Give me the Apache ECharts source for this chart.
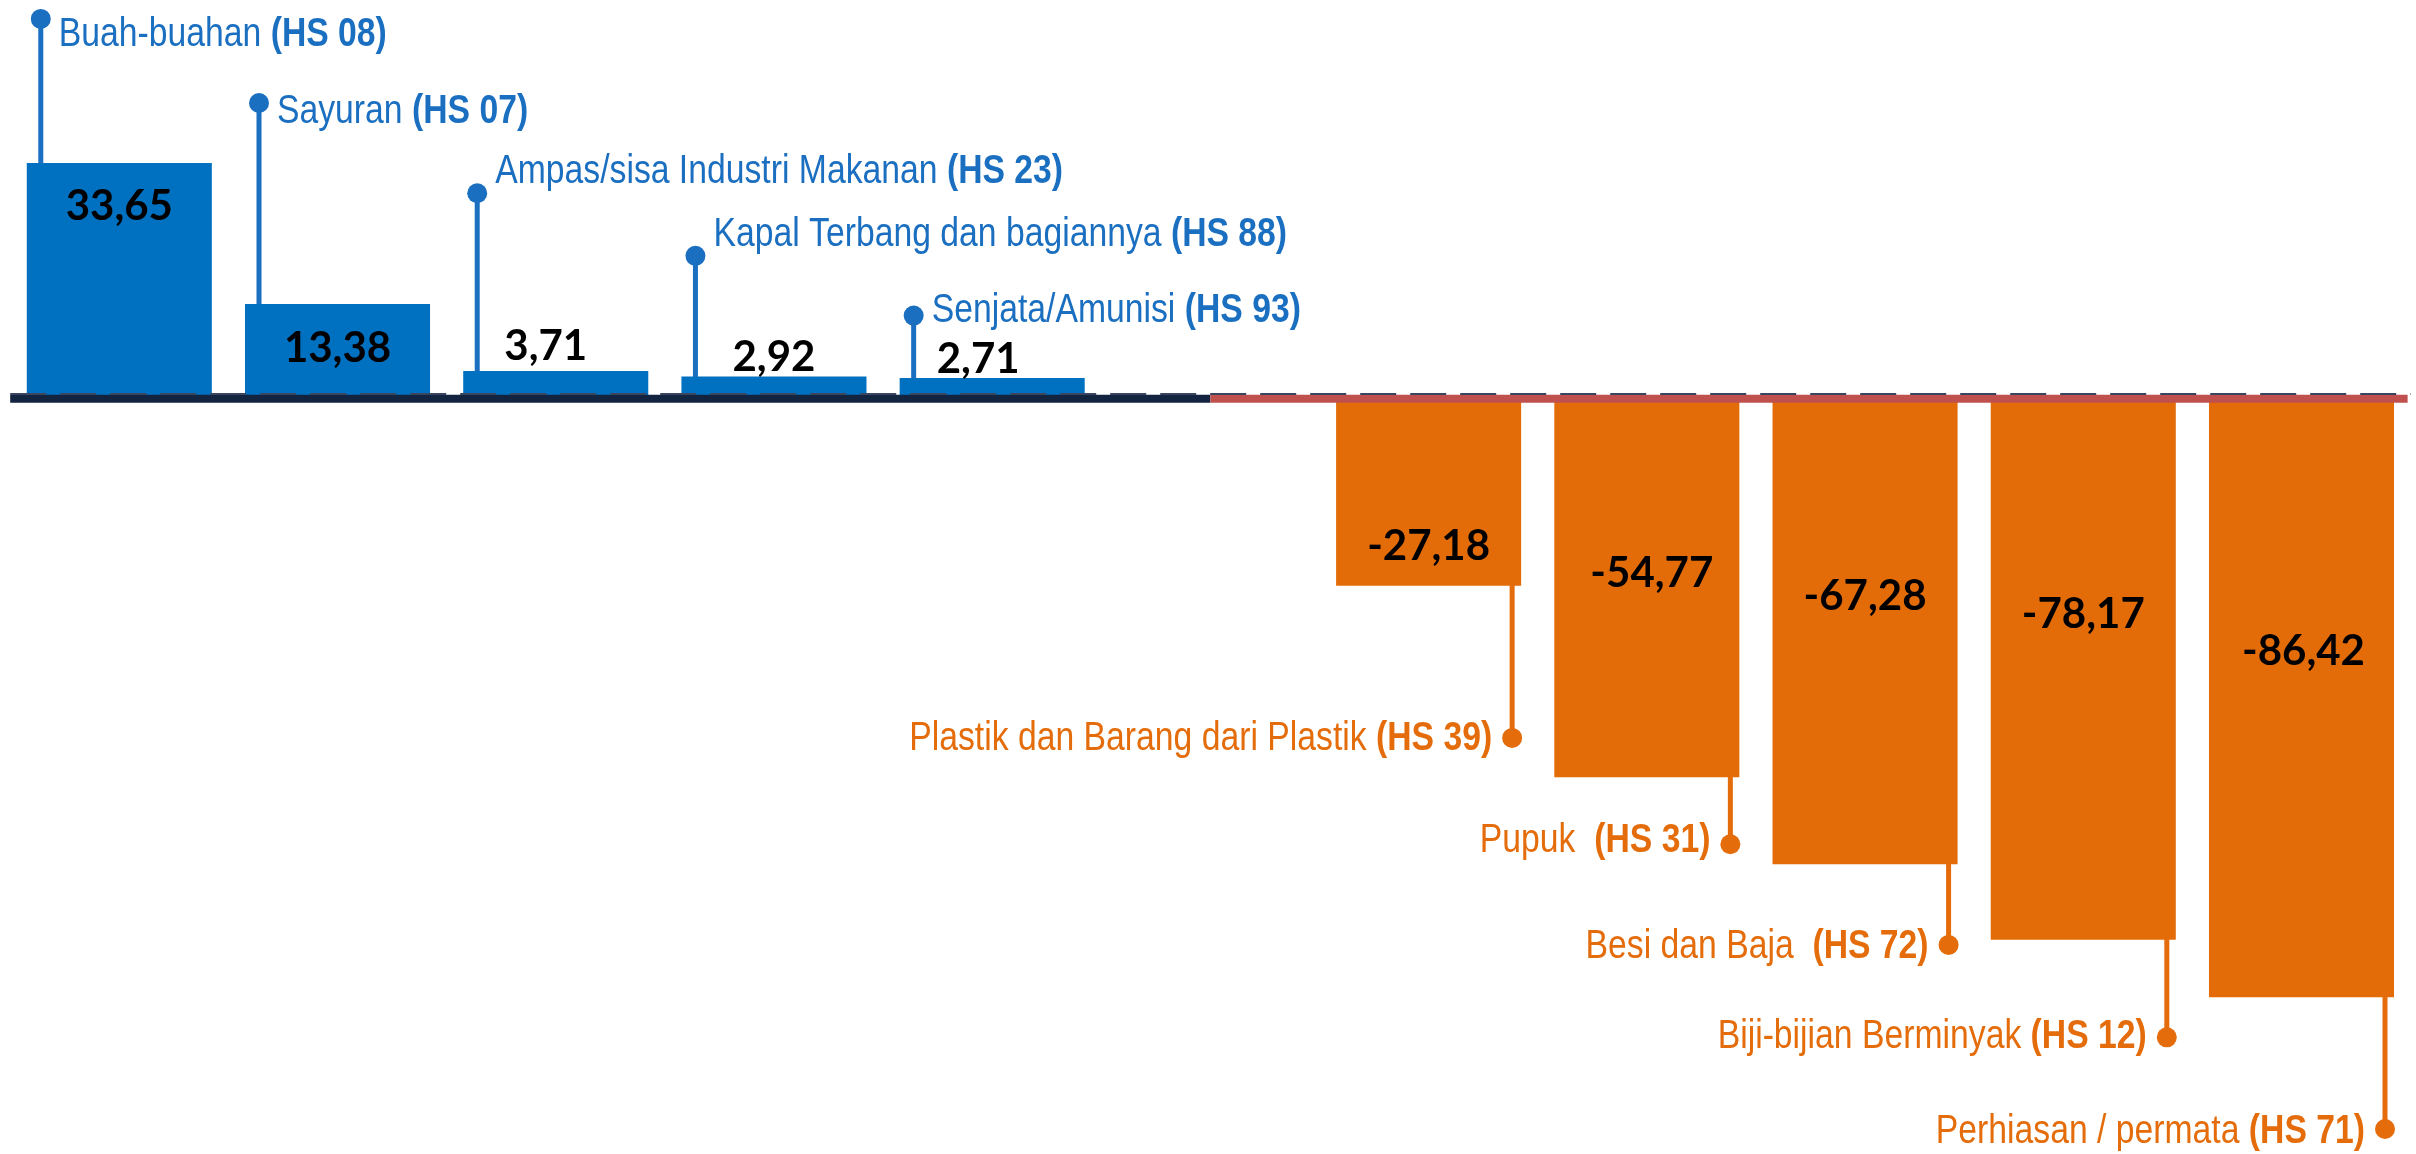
<!DOCTYPE html>
<html>
<head>
<meta charset="utf-8">
<script src="https://cdn.jsdelivr.net/npm/echarts@6/dist/echarts.min.js"></script>
<style>
html,body{margin:0;padding:0;background:#ffffff;}
#chart{width:2416px;height:1154px;}
</style>
</head>
<body>
<div id="chart"></div>
<script>
// ---------------- data ----------------
const categories = ['Buah-buahan', 'Sayuran', 'Ampas/sisa Industri Makanan', 'Kapal Terbang dan bagiannya', 'Senjata/Amunisi', '',
  'Plastik dan Barang dari Plastik', 'Pupuk ', 'Besi dan Baja ', 'Biji-bijian Berminyak', 'Perhiasan / permata'];
const hsCodes = ['HS 08', 'HS 07', 'HS 23', 'HS 88', 'HS 93', '', 'HS 39', 'HS 31', 'HS 72', 'HS 12', 'HS 71'];
const values = [33.65, 13.38, 3.71, 2.92, 2.71, null, -27.18, -54.77, -67.28, -78.17, -86.42];

// ---------------- annotation layout (value-axis levels / pixel nudges) ----------------
const calloutLevels = [54.4, 42.3, 29.3, 20.3, 11.7, null, -49.1, -64.4, -78.9, -92.2, -105.4];
const calloutTextShift = [14, 7, -23, -23, -7, null, -1, -5, 0, -2, 1];
const valueLabelLevels = [27.7, 7.2, 7.5, 5.9, 5.6, null, -21.3, -25.2, -28.5, -31.1, -36.4];
const valueLabelShift = [0, 0, -10, 0, -14, null, 0, 5, 0, 0, 2];

const BAR_FRACTION = 0.848;
const BLUE = '#0070C0', BLUE_TXT = '#1B6FC0';
const ORANGE = '#E36C09', ORANGE_TXT = '#E46C0A';
const SANS = '"Liberation Sans", Arial, sans-serif';
const CONDENSE = 0.843;

const fmt = v => v.toFixed(2).replace('.', ',');

const idx = values.map((v, i) => v == null ? null : i).filter(i => i != null);

function renderCallout(params, api) {
  const i = api.value(0);
  const v = values[i];
  const band = api.size([1, 0])[0];
  const barW = band * BAR_FRACTION;
  const c0 = api.coord([i, 0]);
  const cl = api.coord([i, calloutLevels[i]]);
  const pos = v >= 0;
  const sx = pos ? c0[0] - barW / 2 + 14 : c0[0] + barW / 2 - 9;
  const col = pos ? BLUE_TXT : ORANGE_TXT;
  return {
    type: 'group',
    children: [
      { type: 'line', shape: { x1: sx, y1: c0[1], x2: sx, y2: cl[1] }, style: { stroke: col, lineWidth: 5 } },
      { type: 'circle', shape: { cx: sx, cy: cl[1], r: 10 }, style: { fill: col } },
      {
        type: 'text',
        x: pos ? sx + 18 : sx - 20,
        y: cl[1] + calloutTextShift[i] + 2,
        scaleX: CONDENSE,
        style: {
          text: '{n|' + categories[i] + ' }{b|(' + hsCodes[i] + ')}',
          align: pos ? 'left' : 'right',
          verticalAlign: 'middle',
          rich: {
            n: { fontFamily: SANS, fontSize: 40, fill: col },
            b: { fontFamily: SANS, fontSize: 40, fontWeight: 'bold', fill: col }
          }
        }
      }
    ]
  };
}

function renderValueLabel(params, api) {
  const i = api.value(0);
  const c = api.coord([i, valueLabelLevels[i]]);
  return {
    type: 'text',
    x: c[0] + valueLabelShift[i],
    y: c[1] + 2,
    style: {
      text: fmt(values[i]),
      align: 'center',
      verticalAlign: 'middle',
      fontFamily: 'Lato, "Open Sans", sans-serif',
      fontWeight: 'bold',
      fontSize: 42,
      fill: '#000000'
    }
  };
}

function renderBaseline(params, api) {
  const cs = params.coordSys;
  const y0 = api.coord([0, 0])[1];
  const split = api.coord([5, 0])[0];
  const left = cs.x, right = cs.x + cs.width;
  return {
    type: 'group',
    children: [
      { type: 'line', shape: { x1: left, y1: y0 + 2, x2: split, y2: y0 + 2 }, style: { stroke: '#12243F', lineWidth: 8 } },
      { type: 'line', shape: { x1: split, y1: y0 + 2, x2: right - 3, y2: y0 + 2 }, style: { stroke: '#C0504D', lineWidth: 8 } },
      { type: 'line', shape: { x1: left, y1: y0 - 2.8, x2: right, y2: y0 - 2.8 }, style: { stroke: '#3A4660', lineWidth: 2, lineDash: [36, 14] } }
    ]
  };
}

const chart = echarts.init(document.getElementById('chart'), null, { renderer: 'canvas' });
chart.setOption({
  backgroundColor: '#ffffff',
  animation: false,
  grid: { left: 10.2, right: 5.4, top: 49.5, bottom: 62.5, containLabel: false },
  xAxis: {
    type: 'category',
    data: categories,
    show: false,
    boundaryGap: true
  },
  yAxis: {
    type: 'value',
    min: -100,
    max: 50,
    show: false,
    splitLine: { show: false }
  },
  series: [
    {
      type: 'custom',
      name: 'callouts',
      clip: false,
      z: 1,
      renderItem: renderCallout,
      data: idx.map(i => [i, calloutLevels[i]])
    },
    {
      type: 'bar',
      name: 'values',
      z: 2,
      barCategoryGap: ((1 - BAR_FRACTION) * 100) + '%',
      data: values.map(v => v == null ? null : {
        value: v,
        itemStyle: { color: v >= 0 ? BLUE : ORANGE }
      })
    },
    {
      type: 'custom',
      name: 'baseline',
      clip: false,
      z: 3,
      renderItem: renderBaseline,
      data: [[0, 0]]
    },
    {
      type: 'custom',
      name: 'valueLabels',
      clip: false,
      z: 4,
      renderItem: renderValueLabel,
      data: idx.map(i => [i, valueLabelLevels[i]])
    }
  ]
});
</script>
</body>
</html>
